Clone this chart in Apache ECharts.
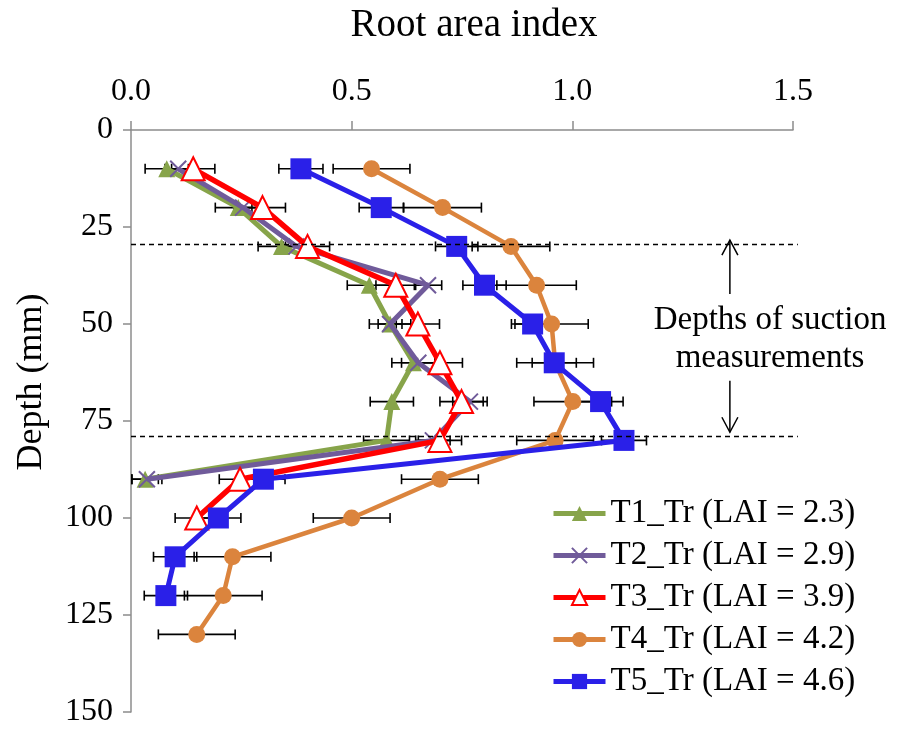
<!DOCTYPE html>
<html><head><meta charset="utf-8">
<script src="https://cdn.jsdelivr.net/npm/echarts@6/dist/echarts.min.js"></script>
<style>html,body{margin:0;padding:0;background:#fff}#c{width:901px;height:729px}</style>
</head><body><div id="c"></div>
<script>
// ---- data ----
const depths = [10, 20, 30, 40, 50, 60, 70, 80, 90, 100, 110, 120, 130];
const seriesNames = ['T1_Tr (LAI = 2.3)', 'T2_Tr (LAI = 2.9)', 'T3_Tr (LAI = 3.9)', 'T4_Tr (LAI = 4.2)', 'T5_Tr (LAI = 4.6)'];
const t1 = [0.081, 0.243, 0.341, 0.540, 0.587, 0.640, 0.591, 0.579, 0.032];
const t2 = [0.107, 0.254, 0.375, 0.673, 0.587, 0.651, 0.768, 0.684, 0.036];
const t3 = [0.141, 0.298, 0.400, 0.600, 0.650, 0.700, 0.749, 0.700, 0.247, 0.149];
const t4 = [0.545, 0.706, 0.861, 0.919, 0.953, 0.961, 1.001, 0.961, 0.700, 0.500, 0.230, 0.209, 0.149];
const t5 = [0.385, 0.567, 0.738, 0.801, 0.910, 0.959, 1.064, 1.117, 0.300, 0.198, 0.100, 0.079];
const e1 = [0.049, 0.052, 0.053, 0.050, 0.047, 0.049, 0.049, 0.052, 0.030];
const e2 = [0.030, 0.020, 0.030, 0.031, 0.027, 0.038, 0.039, 0.039, 0.034];
const e3 = [0.049, 0.052, 0.050, 0.045, 0.049, 0.051, 0.049, 0.049, 0.047, 0.049];
const e4 = [0.087, 0.088, 0.088, 0.090, 0.083, 0.087, 0.088, 0.087, 0.087, 0.087, 0.087, 0.088, 0.087];
const e5 = [0.050, 0.050, 0.048, 0.049, 0.048, 0.050, 0.051, 0.051, 0.049, 0.051, 0.049, 0.049];
const xTicks = [0, 0.5, 1.0, 1.5];
const yTicks = [0, 25, 50, 75, 100, 125, 150];
const suctionDepths = [29.5, 79];
const noteLines = ['Depths of suction', 'measurements'];
const noteDepths = [49, 58.8];
const noteX = 1.448;
const arrowX = 1.357;
const arrowUp = [42.3, 28.4];
const arrowDown = [64.6, 77.9];

// ---- style ----
const FONT = "'Liberation Serif', 'Times New Roman', serif";
const AX = '#8c8c8c';
const colors = ['#87A44A', '#705B9A', '#FF0000', '#DB843D', '#2A20E8'];

const vals = [t1, t2, t3, t4, t5];
const errs = [e1, e2, e3, e4, e5];

const errData = [];
vals.forEach((v, s) => v.forEach((x, i) => errData.push([x, depths[i], errs[s][i]])));

const pairs = v => v.map((x, i) => [x, depths[i]]);

const lineDefs = [
  { symbol: 'triangle', size: 17, lw: 5, item: { color: colors[0] } },
  { symbol: 'path://M0,0L10,10M10,0L0,10', size: 16, lw: 5, item: { color: colors[1], borderColor: colors[1], borderWidth: 2 } },
  { symbol: 'triangle', size: 23, lw: 5.5, item: { color: '#ffffff', borderColor: colors[2], borderWidth: 2 } },
  { symbol: 'circle', size: 17, lw: 4.5, item: { color: colors[3] } },
  { symbol: 'rect', size: 21, lw: 5, item: { color: colors[4] } }
];

const series = [];
series.push({
  type: 'custom', name: 'err', z: 1, clip: false, silent: true,
  data: errData,
  renderItem: (params, api) => {
    const x = api.value(0), y = api.value(1), e = api.value(2);
    const a = api.coord([x - e, y]), b = api.coord([x + e, y]);
    const st = { stroke: '#000', lineWidth: 1.6 };
    return { type: 'group', children: [
      { type: 'line', shape: { x1: a[0], y1: a[1], x2: b[0], y2: b[1] }, style: st },
      { type: 'line', shape: { x1: a[0], y1: a[1] - 5, x2: a[0], y2: a[1] + 5 }, style: st },
      { type: 'line', shape: { x1: b[0], y1: b[1] - 5, x2: b[0], y2: b[1] + 5 }, style: st }
    ]};
  }
});
vals.forEach((v, s) => {
  const d = lineDefs[s];
  series.push({
    type: 'line', name: seriesNames[s], data: pairs(v), z: 2 + s * 0.1,
    symbol: d.symbol, symbolSize: d.size, showSymbol: true, clip: false,
    lineStyle: { color: colors[s], width: d.lw },
    itemStyle: Object.assign({ opacity: 1 }, d.item),
    emphasis: { disabled: true }
  });
});
series.push({
  type: 'custom', name: 'notes', z: 10, clip: false, silent: true,
  data: [[0, 0]],
  renderItem: (params, api) => {
    const children = [];
    const dash = { stroke: '#000', lineWidth: 1.4, lineDash: [5, 4] };
    suctionDepths.forEach(dp => {
      const a = api.coord([0, dp]), b = api.coord([1.511, dp]);
      children.push({ type: 'line', shape: { x1: a[0], y1: a[1], x2: b[0], y2: b[1] }, style: dash });
    });
    const ast = { stroke: '#000', lineWidth: 1.5, fill: null };
    [arrowUp, arrowDown].forEach(ar => {
      const p = api.coord([arrowX, ar[0]]), q = api.coord([arrowX, ar[1]]);
      const dir = q[1] < p[1] ? 1 : -1;
      children.push({ type: 'line', shape: { x1: p[0], y1: p[1], x2: q[0], y2: q[1] }, style: ast });
      children.push({ type: 'polyline', shape: { points: [[q[0] - 8, q[1] + dir * 15], [q[0], q[1]], [q[0] + 8, q[1] + dir * 15]] }, style: ast });
    });
    noteLines.forEach((t, i) => {
      const p = api.coord([noteX, noteDepths[i]]);
      children.push({ type: 'text', x: p[0], y: p[1], style: { text: t, font: '33px ' + FONT, fill: '#000', align: 'center', verticalAlign: 'middle' } });
    });
    return { type: 'group', children };
  }
});

const chart = echarts.init(document.getElementById('c'), null, { renderer: 'canvas' });
chart.setOption({
  animation: false,
  backgroundColor: '#fff',
  textStyle: { fontFamily: FONT },
  grid: { left: 131, right: 108, top: 130, bottom: 17, containLabel: false },
  legend: {
    data: seriesNames.map((n, s) => ({ name: n, lineStyle: { width: 5, color: colors[s] } })),
    orient: 'vertical', left: 546, top: 492,
    itemWidth: 52, itemHeight: 19, itemGap: 9, selectedMode: false,
    lineStyle: { width: 5 },
    textStyle: { fontSize: 33, fontFamily: FONT, color: '#000', lineHeight: 33 }
  },
  graphic: [
    { type: 'text', x: 474, y: 26, style: { text: 'Root area index', font: '39px ' + FONT, fill: '#000', align: 'center', verticalAlign: 'middle' } },
    { type: 'text', x: 32, y: 382, rotation: Math.PI / 2, style: { text: 'Depth (mm)', font: '36px ' + FONT, fill: '#000', align: 'center', verticalAlign: 'middle' } }
  ],
  xAxis: {
    type: 'value', position: 'top', min: xTicks[0], max: xTicks[xTicks.length - 1], interval: 0.5,
    axisLine: { show: true, lineStyle: { color: AX, width: 1.5 } },
    axisTick: { show: true, length: 9, lineStyle: { color: AX, width: 1.5 } },
    splitLine: { show: false },
    axisLabel: { fontSize: 32, color: '#000', fontFamily: FONT, margin: 22, formatter: v => v.toFixed(1) }
  },
  yAxis: {
    type: 'value', inverse: true, min: yTicks[0], max: yTicks[yTicks.length - 1], interval: 25,
    axisLine: { show: true, lineStyle: { color: AX, width: 1.5 } },
    axisTick: { show: true, length: 8, lineStyle: { color: AX, width: 1.5 } },
    splitLine: { show: false },
    axisLabel: { fontSize: 32, color: '#000', fontFamily: FONT, margin: 18 }
  },
  series
});
</script></body></html>
